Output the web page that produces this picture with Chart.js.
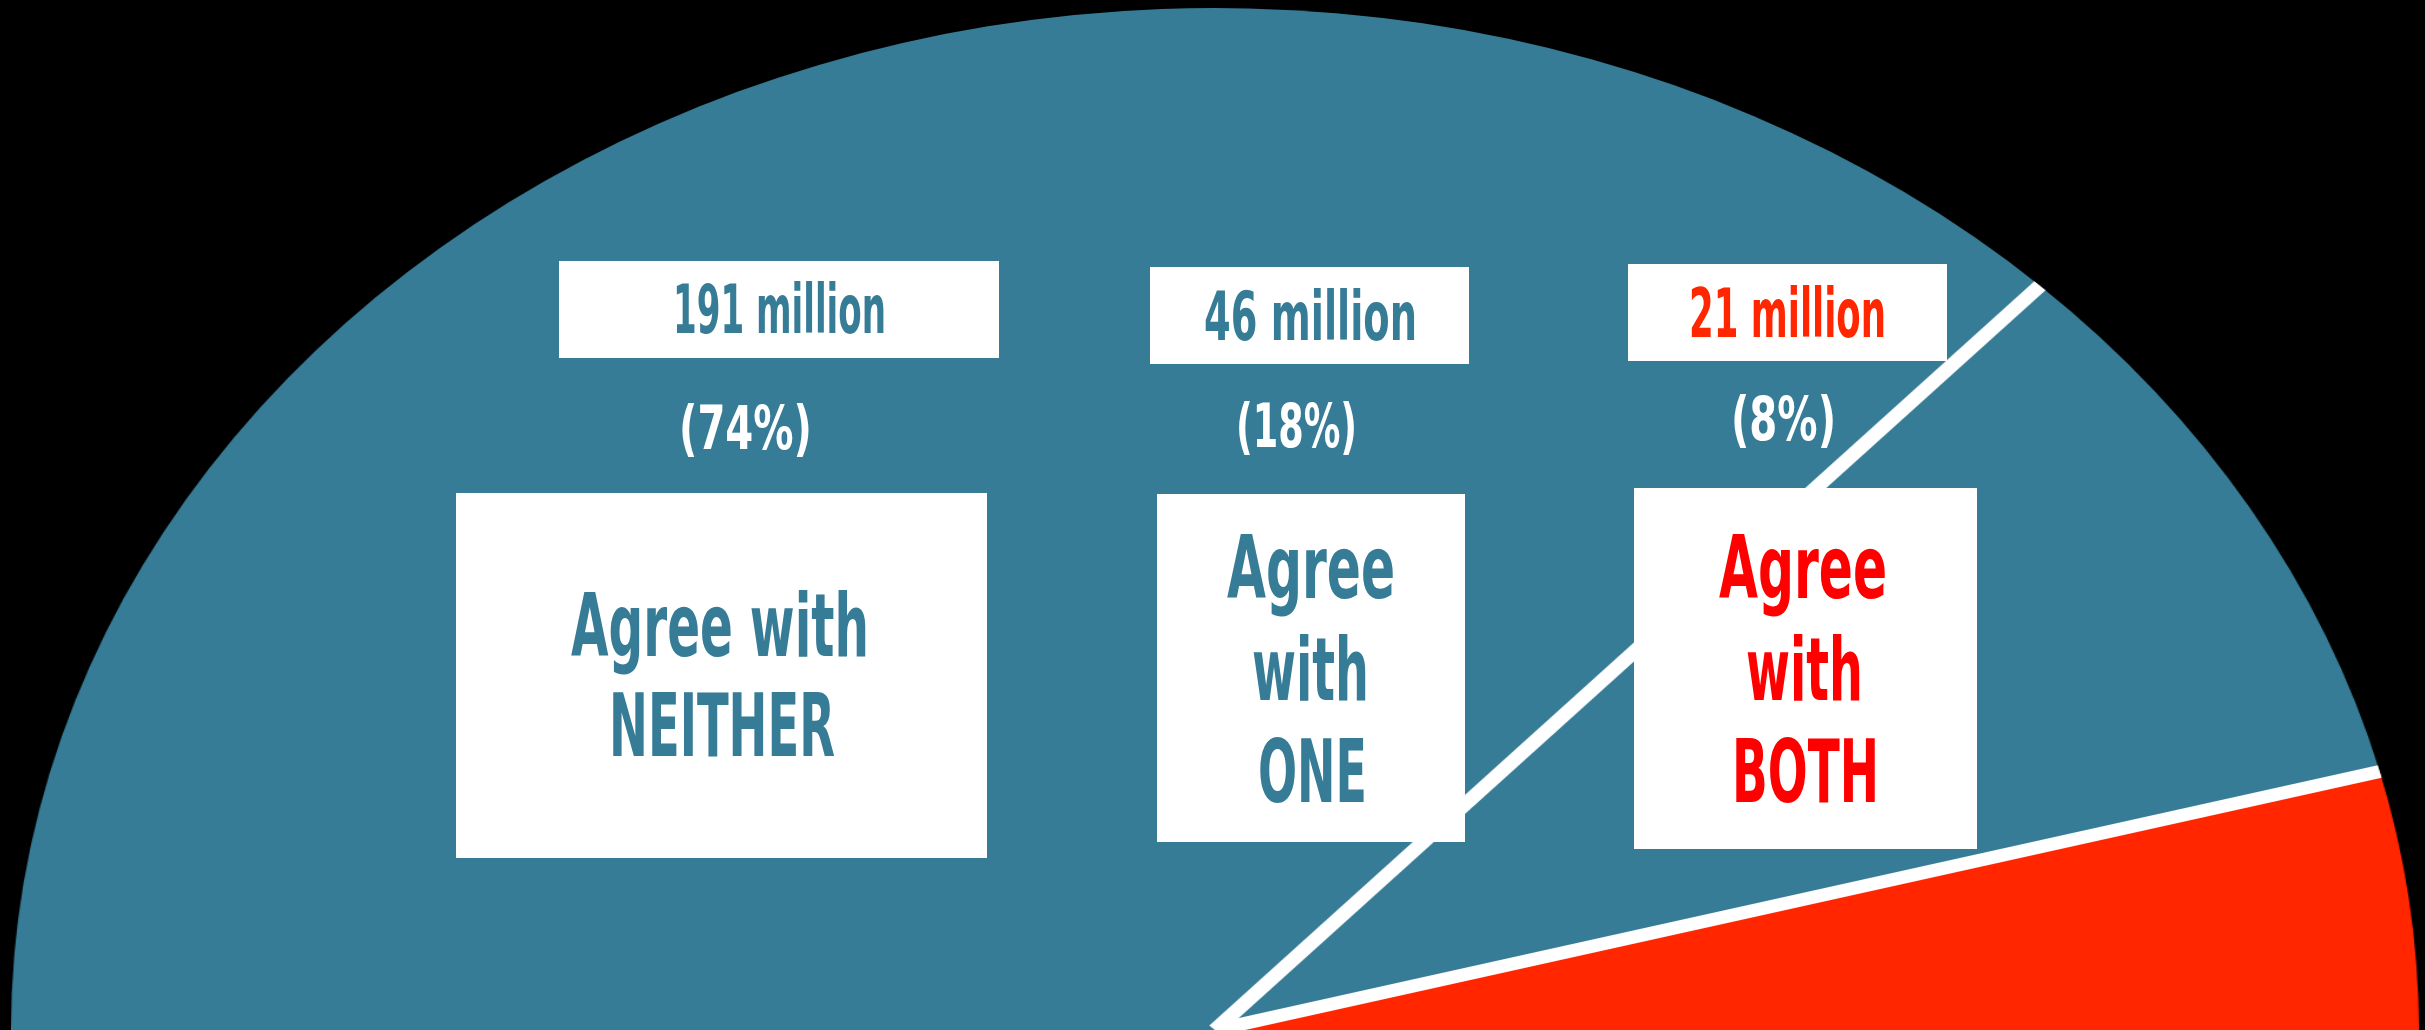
<!DOCTYPE html>
<html>
<head>
<meta charset="utf-8">
<script src="https://cdn.jsdelivr.net/npm/chart.js@4/dist/chart.umd.min.js"></script>
<style>
  html, body { margin: 0; padding: 0; background: #000; width: 2425px; height: 1030px; overflow: hidden; }
  #wrap { position: absolute; left: 11px; top: 0; width: 2044px; height: 1030px; transform: scaleX(1.178); transform-origin: 0 0; }
  .box { position: absolute; background: #fff; }
  .txt { position: absolute; white-space: nowrap; font-family: "Liberation Sans Narrow", "DejaVu Sans Condensed", "Liberation Sans", sans-serif; font-weight: bold; line-height: 1; transform-origin: 0 0; }
</style>
</head>
<body>
<div id="wrap"><canvas id="chart"></canvas></div>
<div id="labels"></div>
<script>
// data
const groups = ["NEITHER", "ONE", "BOTH"];
const millions = [191, 46, 21];
const shares = [74, 18, 8];

const BLUE = "#377c96";
const RED = "#ff2600";
const sliceColors = [BLUE, BLUE, RED];

// white separators along the slice edges
const dividers = {
  id: "dividers",
  afterDatasetsDraw(chart) {
    const ctx = chart.ctx;
    const arcs = chart.getDatasetMeta(0).data;
    ctx.save();
    ctx.strokeStyle = "#fff";
    ctx.lineWidth = 13;
    for (let i = 1; i < arcs.length; i++) {
      const { x, y, startAngle, outerRadius } = arcs[i].getProps(["x", "y", "startAngle", "outerRadius"], true);
      ctx.beginPath();
      ctx.moveTo(x, y);
      ctx.lineTo(x + outerRadius * Math.cos(startAngle), y + outerRadius * Math.sin(startAngle));
      ctx.stroke();
    }
    ctx.restore();
  },
};

new Chart(document.getElementById("chart"), {
  type: "pie",
  data: {
    labels: groups.map((g) => "Agree with " + g),
    datasets: [{ data: millions, backgroundColor: sliceColors, borderWidth: 0 }],
  },
  options: {
    responsive: true,
    maintainAspectRatio: false,
    animation: false,
    rotation: -90,
    circumference: 180,
    layout: { padding: { top: 8 } },
    plugins: { legend: { display: false }, tooltip: { enabled: false } },
  },
  plugins: [dividers],
});

// annotation boxes, placed as in the original graphic
const layer = document.getElementById("labels");
const measure = document.createElement("canvas").getContext("2d");

function box(x0, y0, x1, y1) {
  const d = document.createElement("div");
  d.className = "box";
  Object.assign(d.style, { left: x0 + "px", top: y0 + "px", width: x1 - x0 + "px", height: y1 - y0 + "px" });
  layer.appendChild(d);
}

// text centred on cx, sitting on baseline by, squeezed to width w
function text(str, cx, by, size, color, w) {
  const d = document.createElement("div");
  d.className = "txt";
  d.textContent = str;
  measure.font = "bold " + size + 'px "Liberation Sans Narrow", "DejaVu Sans Condensed", "Liberation Sans", sans-serif';
  const natural = measure.measureText(str).width;
  const k = w / natural;
  Object.assign(d.style, {
    fontSize: size + "px",
    color: color,
    left: cx - w / 2 + "px",
    top: by - 0.85 * size + "px",
    transform: "scaleX(" + k + ")",
  });
  layer.appendChild(d);
}

const TEXT_RED = "#ff0000";

// NEITHER
box(559, 261, 999, 358);
text(millions[0] + " million", 779, 334, 68, BLUE, 213);
text("(" + shares[0] + "%)", 745, 449, 61, "#fff", 133);
box(456, 493, 987, 858);
text("Agree with", 720, 657, 88, BLUE, 298);
text(groups[0], 722, 757, 88, BLUE, 226);

// ONE
box(1150, 267, 1469, 364);
text(millions[1] + " million", 1310, 341, 68, BLUE, 213);
text("(" + shares[1] + "%)", 1296, 447, 61, "#fff", 121);
box(1157, 494, 1465, 842);
text("Agree", 1311, 599, 88, BLUE, 168);
text("with", 1310, 701, 88, BLUE, 117);
text(groups[1], 1312, 803, 88, BLUE, 109);

// BOTH
box(1628, 264, 1947, 361);
text(millions[2] + " million", 1787, 338, 68, RED, 197);
text("(" + shares[2] + "%)", 1783, 440, 61, "#fff", 105);
box(1634, 488, 1977, 849);
text("Agree", 1803, 599, 88, TEXT_RED, 168);
text("with", 1804, 701, 88, TEXT_RED, 117);
text(groups[2], 1805, 803, 88, TEXT_RED, 147);
</script>
</body>
</html>
